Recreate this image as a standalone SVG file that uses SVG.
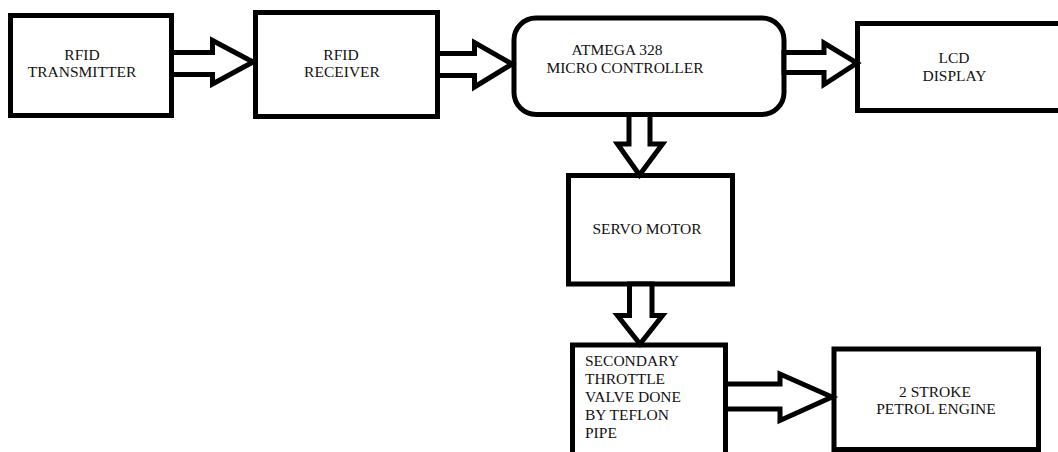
<svg xmlns="http://www.w3.org/2000/svg" width="1058" height="452" viewBox="0 0 1058 452">
<style>
.box{fill:#fff;stroke:#000;stroke-width:5}
.arr{fill:#fff;stroke:#000;stroke-width:5;stroke-linejoin:miter;stroke-miterlimit:10}
text{font-family:"Liberation Serif","Times New Roman",serif;font-size:15.5px;fill:#111}
.c{text-anchor:middle}
</style>
<rect width="1058" height="452" fill="#fff"/>
<g id="rfid-transmitter">
<rect class="box" x="10.5" y="15.5" width="161" height="100"/>
<text class="c" x="82" y="60">RFID</text>
<text class="c" x="82" y="77">TRANSMITTER</text>
</g>
<g id="rfid-receiver">
<rect class="box" x="255.5" y="12.5" width="182" height="104"/>
<text class="c" x="341" y="60">RFID</text>
<text class="c" x="342" y="77">RECEIVER</text>
</g>
<g id="microcontroller">
<rect class="box" x="514" y="18" width="270" height="96.5" rx="22" ry="22"/>
<text class="c" x="617" y="55">ATMEGA 328</text>
<text class="c" x="625" y="73">MICRO CONTROLLER</text>
</g>
<g id="lcd-display">
<rect class="box" x="857.5" y="23.5" width="220" height="87"/>
<text class="c" x="954" y="63">LCD</text>
<text class="c" x="954.5" y="81">DISPLAY</text>
</g>
<g id="servo-motor">
<rect class="box" x="568.5" y="175.5" width="164" height="108.5"/>
<text class="c" x="647" y="234">SERVO MOTOR</text>
</g>
<g id="throttle-valve">
<rect class="box" x="572.5" y="345" width="153" height="130"/>
<text x="585" y="366">SECONDARY</text>
<text x="585" y="384">THROTTLE</text>
<text x="585" y="402">VALVE DONE</text>
<text x="585" y="420">BY TEFLON</text>
<text x="585" y="438">PIPE</text>
</g>
<g id="petrol-engine">
<rect class="box" x="834" y="349" width="204.5" height="100.5"/>
<text class="c" x="935" y="397">2 STROKE</text>
<text class="c" x="936" y="414">PETROL ENGINE</text>
</g>
<g id="connectors">
<polygon class="arr" points="171.5,52.5 212.5,52.5 212.5,40.5 253,62 212.5,84 212.5,74.5 171.5,74.5"/>
<polygon class="arr" points="437.5,53.5 474.5,53.5 474.5,42.5 512,64 474.5,87 474.5,75.5 437.5,75.5"/>
<polygon class="arr" points="784,52.5 824,52.5 824,43 857,63 824,84.5 824,72.5 784,72.5"/>
<polygon class="arr" points="629,114.5 629,144 617.5,144 639.5,175 662.5,144 650,144 650,114.5"/>
<polygon class="arr" points="629.5,284 629.5,315.5 617.5,315.5 640,344 662.5,315.5 652,315.5 652,284"/>
<polygon class="arr" points="725.5,384 780,384 780,374 832,397 780,420.5 780,409 725.5,409"/>
</g>
</svg>
